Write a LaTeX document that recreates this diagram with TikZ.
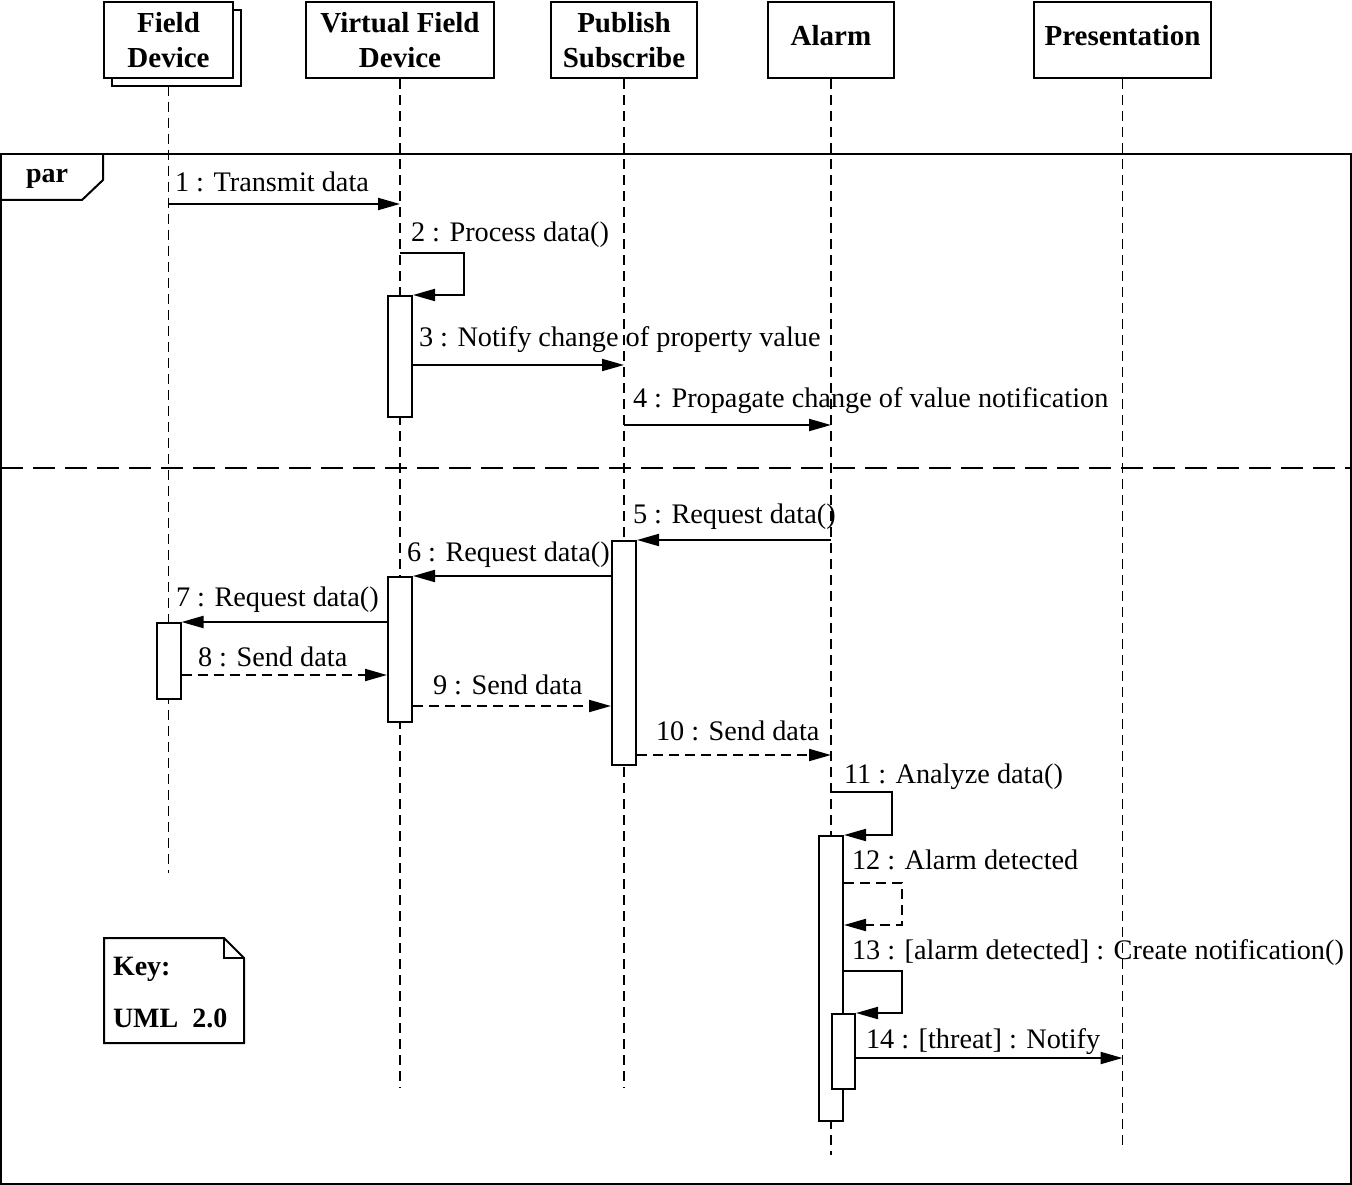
\documentclass[tikz,border=0pt]{standalone}
\usepackage{fontspec}
\setmainfont{Liberation Serif}
\usetikzlibrary{arrows.meta,positioning,shadows}

\tikzset{
  head/.style={draw, fill=white, align=center, inner sep=0pt, minimum height=76pt,
    font=\fontsize{29}{35}\selectfont\bfseries},
  lifeline/.style={line width=1.6pt, dash pattern=on 10pt off 6pt},
  actbox/.style={draw, fill=white, inner sep=0pt, minimum width=24pt, anchor=north},
  msg/.style={-{Triangle[length=22pt,width=12pt]}},
  reply/.style={msg, dash pattern=on 10pt off 6pt},
  lbl/.style={anchor=base west, inner sep=0pt, font=\fontsize{28.3}{34}\selectfont},
  sepline/.style={dash pattern=on 22pt off 10pt},
}

\begin{document}
\begin{tikzpicture}[x=1pt,y=-1pt,line width=2pt]
	\useasboundingbox (0,0) rectangle (1352,1185);
	% par fragment
	\draw (1,154) rectangle (1351,1184);
	\draw (1,200) -- (82,200) -- (103,180) -- (103,154);
	\node[lbl, anchor=base, font=\fontsize{28}{34}\selectfont\bfseries] (parlbl) at (47,183) {par};
	\draw[sepline] (1,468) -- (1351,468);
	% lifeline heads
	\node[head, minimum width=129pt, copy shadow={shadow xshift=8pt,shadow yshift=-8pt}] (fd) at (168.5,40) {Field\\Device};
	\node[head, minimum width=188pt] (vfd) at (400,40) {Virtual Field\\Device};
	\node[head, minimum width=146pt] (ps) at (624,40) {Publish\\Subscribe};
	\node[head, minimum width=126pt] (al) at (831,40) {\raisebox{10pt}{Alarm}};
	\node[head, minimum width=177pt] (pr) at (1122.5,40) {\raisebox{10pt}{Presentation}};
	% lifelines
	\draw[lifeline] (fd |- 0,86) -- (fd |- 0,873);
	\draw[lifeline] (vfd.south) -- (vfd |- 0,1088);
	\draw[lifeline] (ps.south) -- (ps |- 0,1088);
	\draw[lifeline] (al.south) -- (al |- 0,1155);
	\draw[lifeline] (pr.south) -- (pr |- 0,1150);
	% activations
	\node[actbox, minimum height=121pt] (vfdA) at (vfd |- 0,295) {};
	\node[actbox, minimum height=224pt] (psA) at (ps |- 0,540) {};
	\node[actbox, minimum height=145pt] (vfdB) at (vfd |- 0,576) {};
	\node[actbox, minimum height=76pt] (fdA) at (fd |- 0,622) {};
	\node[actbox, minimum height=285pt] (alA) at (al |- 0,835) {};
	\node[actbox, minimum height=75pt, minimum width=23pt] (alB) at (843.5,1013) {};
	% messages
	\draw[msg] (fd |- 0,204) -- (vfd |- 0,204);
	\node[lbl] (m1) at (174,192) {1 : Transmit data};
	\draw[msg] (vfd |- 0,253) -- ++(64,0) |- (vfdA.north east);
	\node[lbl] (m2) at (410,242) {2 : Process data()};
	\draw[msg] (vfdA.east |- 0,365) -- (ps |- 0,365);
	\node[lbl] (m3) at (418,346) {3 : Notify change of property value};
	\draw[msg] (ps |- 0,425) -- (al |- 0,425);
	\node[lbl] (m4) at (632,407) {4 : Propagate change of value notification};
	\draw[msg] (al |- 0,540) -- (psA.north east);
	\node[lbl] (m5) at (632,523) {5 : Request data()};
	\draw[msg] (psA.west |- 0,576) -- (vfdB.north east);
	\node[lbl] (m6) at (406,561) {6 : Request data()};
	\draw[msg] (vfdB.west |- 0,622) -- (fdA.north east);
	\node[lbl] (m7) at (175,606) {7 : Request data()};
	\draw[reply] (fdA.east |- 0,675) -- (vfdB.west |- 0,675);
	\node[lbl] (m8) at (197,666) {8 : Send data};
	\draw[reply] (vfdB.east |- 0,706) -- (psA.west |- 0,706);
	\node[lbl] (m9) at (432,694) {9 : Send data};
	\draw[reply] (psA.east |- 0,755) -- (al |- 0,755);
	\node[lbl] (m10) at (655,740) {10 : Send data};
	\draw[msg] (al |- 0,792) -- ++(61,0) |- (alA.north east);
	\node[lbl] (m11) at (843,783) {11 : Analyze data()};
	\draw[reply] (alA.east |- 0,883) -- ++(58,0) |- (alA.east |- 0,925);
	\node[lbl] (m12) at (851,869) {12 : Alarm detected};
	\draw[msg] (alA.east |- 0,971) -- ++(58,0) |- (alB.north east);
	\node[lbl] (m13) at (851,959) {13 : [alarm detected] : Create notification()};
	\draw[msg] (alB.east |- 0,1058) -- (pr |- 0,1058);
	\node[lbl] (m14) at (865,1048) {14 : [threat] : Notify};
	% key note
	\draw (104,938) -- (224,938) -- (244,958) -- (244,1043) -- (104,1043) -- cycle;
	\draw (224,938) -- (224,958) -- (244,958);
	\node[lbl, font=\fontsize{28}{34}\selectfont\bfseries] (key) at (112,975) {Key:};
	\node[lbl, font=\fontsize{28}{34}\selectfont\bfseries] (uml) at (112,1027) {UML\ \ 2.0};
\end{tikzpicture}
\end{document}
